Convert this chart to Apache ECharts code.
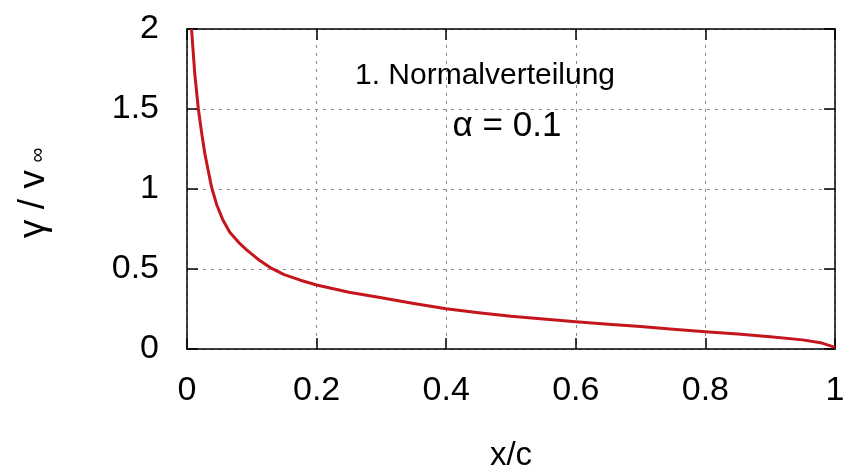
<!DOCTYPE html>
<html>
<head>
<meta charset="utf-8">
<script src="https://cdn.jsdelivr.net/npm/echarts@6/dist/echarts.min.js"></script>
<style>
html, body { margin: 0; padding: 0; background: #fff; }
#main { width: 848px; height: 468px; }
</style>
</head>
<body>
<div id="main"></div>
<script>
// x/c positions
var xValues = [0.007, 0.012, 0.0175, 0.023, 0.028, 0.038, 0.046, 0.055, 0.066, 0.08, 0.092, 0.11, 0.13, 0.15, 0.175, 0.2,
	0.25, 0.3, 0.35, 0.4, 0.45, 0.5, 0.55, 0.6, 0.65, 0.7, 0.75, 0.8, 0.85, 0.9, 0.95, 0.98, 1.0];
// gamma / v_inf
var yValues = [2.0, 1.72, 1.5, 1.34, 1.21, 1.01, 0.9, 0.81, 0.73, 0.665, 0.62, 0.56, 0.505, 0.465, 0.43, 0.40,
	0.355, 0.32, 0.285, 0.252, 0.226, 0.204, 0.187, 0.171, 0.155, 0.14, 0.124, 0.108, 0.093, 0.077, 0.057, 0.037, 0.01];
var xTicks = [0, 0.2, 0.4, 0.6, 0.8, 1];
var yTicks = [0, 0.5, 1, 1.5, 2];
var titleLines = ['1. Normalverteilung', 'α = 0.1'];

var byId = function(id) {
	return document.getElementById(id);
};

var font = 'Liberation Sans, Arial, sans-serif';
var pairs = [];
for (var i = 0; i < xValues.length; i++) {
	pairs.push([xValues[i], yValues[i]]);
}

var gridLine = {
	show: true,
	lineStyle: { color: '#8a8a8a', width: 1, type: [3, 5] }
};
var tick = { show: true, inside: true, length: 11, lineStyle: { color: '#000', width: 1.5 } };
var axisLine = { show: true, onZero: false, lineStyle: { color: '#000', width: 1.5 } };

function makeX(pos, labels) {
	return {
		type: 'value', position: pos, min: 0, max: 1, interval: xTicks[1] - xTicks[0],
		axisLine: axisLine, axisTick: tick,
		splitLine: pos == 'bottom' ? gridLine : { show: false },
		axisLabel: { show: labels, margin: 25, color: '#000', fontSize: 34, fontFamily: font },
		name: labels ? 'x/c' : '', nameLocation: 'middle', nameGap: 90,
		nameTextStyle: { color: '#000', fontSize: 33, fontFamily: font }
	};
}
function makeY(pos, labels) {
	return {
		type: 'value', position: pos, min: 0, max: 2, interval: yTicks[1] - yTicks[0],
		axisLine: axisLine, axisTick: tick,
		splitLine: pos == 'left' ? gridLine : { show: false },
		axisLabel: { show: labels, margin: 28, color: '#000', fontSize: 34, fontFamily: font,
			formatter: function(v) { return String(v); } }
	};
}

var option = {
	backgroundColor: '#fff',
	animation: false,
	grid: { left: 187, right: 13, top: 29, bottom: 119, show: false, containLabel: false, outerBoundsMode: 'none' },
	xAxis: [makeX('bottom', true), makeX('top', false)],
	yAxis: [makeY('left', true), makeY('right', false)],
	graphic: [
		{ type: 'text', x: 485, y: 76, style: { text: titleLines[0], fill: '#000', font: '30px ' + font, align: 'center', verticalAlign: 'middle' } },
		{ type: 'text', x: 507, y: 126, style: { text: titleLines[1], fill: '#000', font: '35px ' + font, align: 'center', verticalAlign: 'middle' } },
		{ type: 'text', x: 34, y: 204, rotation: Math.PI / 2, style: { text: 'γ / v', fill: '#000', font: '37px ' + font, align: 'center', verticalAlign: 'middle' } },
		{ type: 'text', x: 38, y: 155, rotation: Math.PI / 2, style: { text: '∞', fill: '#000', font: '21px ' + font, align: 'center', verticalAlign: 'middle' } }
	],
	series: [{
		name: 'gamma',
		type: 'line',
		xAxisIndex: 0,
		yAxisIndex: 0,
		data: pairs,
		showSymbol: false,
		smooth: false,
		clip: true,
		lineStyle: { color: '#c4161c', width: 3, join: 'round' }
	}]
};

var chart = echarts.init(byId('main'));
chart.setOption(option);
</script>
</body>
</html>
